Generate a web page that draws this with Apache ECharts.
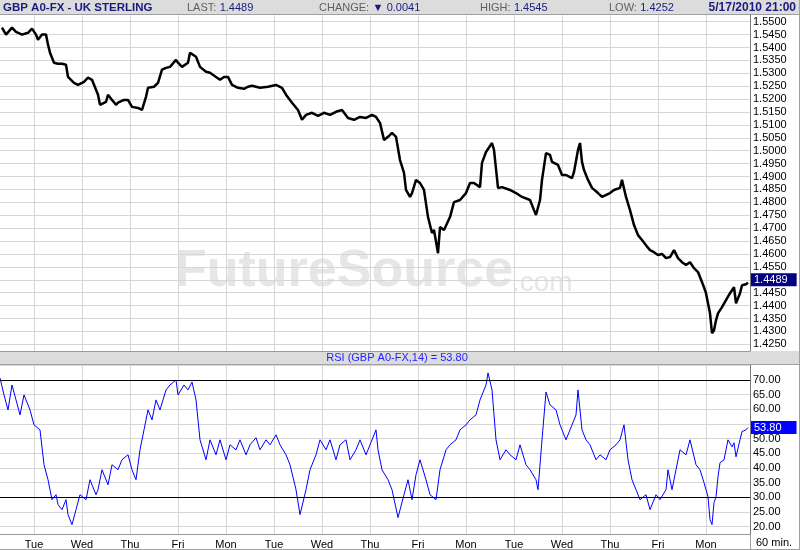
<!DOCTYPE html>
<html>
<head>
<meta charset="utf-8">
<script src="https://cdn.jsdelivr.net/npm/echarts@6/dist/echarts.min.js"></script>
<style>html,body{margin:0;padding:0;background:#fff;}#c{width:800px;height:550px;}</style>
</head>
<body>
<div id="c"></div>
<script>
// ---- data ----
const dayLabels = ['Tue','Wed','Thu','Fri','Mon','Tue','Wed','Thu','Fri','Mon','Tue','Wed','Thu','Fri','Mon'];
const firstBoundaryHour = 17;
const hoursPerDay = 24;
const totalHours = 375;

const priceHours = [
  1,3,4,6,8,9,11,14,16,18,
  19,21,23,24,25,27,29,31,33,34,
  35,37,39,42,44,46,48,49,50,53,
  54,56,58,59,62,64,66,69,71,73,
  74,77,79,81,83,85,88,89,91,94,
  95,98,100,103,105,108,110,112,114,116,
  119,122,124,126,130,134,138,141,143,146,
  149,151,153,156,159,162,165,168,171,174,
  177,180,183,186,188,190,192,194,196,198,
  200,202,203,205,206,208,210,212,214,216,
  217,219,220,222,223,225,227,230,233,235,
  237,240,241,243,246,247,249,251,255,258,
  261,265,267,268,270,271,273,275,276,279,
  281,283,286,287,289,290,291,292,294,296,
  299,301,305,307,310,311,313,315,317,319,
  321,323,325,327,329,331,333,335,337,339,
  341,343,345,347,349,350,352,353,355,356,
  357,358,359,361,363,365,367,368,370,371,
  373,374
];
const priceClose = [
  1.5477,1.5450,1.5457,1.5477,1.5461,1.5457,1.5450,1.5457,1.5473,1.5450,
  1.5430,1.5450,1.5450,1.5411,1.5380,1.5341,1.5337,1.5337,1.5333,1.5286,
  1.5283,1.5263,1.5255,1.5267,1.5283,1.5275,1.5236,1.5217,1.5178,1.5189,
  1.5217,1.5197,1.5178,1.5186,1.5197,1.5197,1.5170,1.5166,1.5158,1.5209,
  1.5244,1.5248,1.5263,1.5314,1.5321,1.5325,1.5352,1.5341,1.5325,1.5341,
  1.5380,1.5364,1.5325,1.5306,1.5302,1.5286,1.5275,1.5286,1.5286,1.5255,
  1.5244,1.5240,1.5248,1.5252,1.5244,1.5248,1.5255,1.5244,1.5217,1.5186,
  1.5158,1.5120,1.5139,1.5147,1.5135,1.5147,1.5139,1.5151,1.5158,1.5127,
  1.5120,1.5131,1.5127,1.5139,1.5131,1.5108,1.5042,1.5054,1.5069,1.5054,
  1.4964,1.4914,1.4848,1.4821,1.4836,1.4887,1.4875,1.4848,1.4743,1.4681,
  1.4693,1.4603,1.4704,1.4693,1.4693,1.4743,1.4801,1.4809,1.4836,1.4875,
  1.4875,1.4859,1.4953,1.4995,1.5030,1.5003,1.4856,1.4859,1.4848,1.4836,
  1.4821,1.4809,1.4770,1.4751,1.4809,1.4887,1.4991,1.4984,1.4957,1.4945,
  1.4906,1.4906,1.4894,1.4918,1.5003,1.5030,1.4957,1.4925,1.4887,1.4856,
  1.4836,1.4821,1.4836,1.4848,1.4856,1.4887,1.4821,1.4770,1.4712,1.4673,
  1.4654,1.4634,1.4615,1.4607,1.4596,1.4600,1.4584,1.4588,1.4615,1.4584,
  1.4568,1.4557,1.4568,1.4545,1.4530,1.4537,1.4471,1.4448,1.4370,1.4293,
  1.4304,1.4343,1.4370,1.4394,1.4421,1.4448,1.4471,1.4409,1.4448,1.4479,
  1.4483,1.4489
];

const rsiHours = [
  0,2,4,6,8,10,12,15,17,20,
  22,24,26,28,29,31,33,34,36,38,
  40,43,45,48,49,51,54,56,59,61,
  64,66,68,70,72,74,76,78,80,83,
  85,88,89,92,94,96,98,100,103,105,
  108,110,113,115,118,120,123,125,128,130,
  133,135,138,140,143,145,148,150,153,155,
  158,160,163,165,168,170,173,175,178,180,
  183,185,188,189,191,194,196,199,202,204,
  206,208,210,213,215,218,220,223,225,228,
  230,233,235,238,240,243,244,246,248,250,
  253,255,258,260,263,265,268,269,271,273,
  275,278,280,283,285,288,289,291,293,295,
  298,300,303,305,308,310,312,314,316,318,
  320,323,325,328,330,333,334,336,338,340,
  343,345,348,350,352,354,355,356,357,358,
  359,360,361,362,363,364,366,367,368,370,
  371,373,374
];
const rsiValues = [
  70.7,64.9,59.8,68.3,63.2,58.1,64.9,59.8,54.7,53.0,
  41.1,36.0,29.2,30.9,27.5,25.8,29.2,24.1,20.7,25.8,
  30.9,29.2,36.0,30.9,32.6,39.4,34.3,41.1,39.4,42.8,
  44.5,39.4,36.0,46.2,53.0,59.8,56.4,63.2,59.8,66.6,
  68.3,70.0,64.9,68.3,66.6,69.3,63.2,49.6,42.8,49.6,
  44.5,49.6,42.8,47.9,46.2,49.6,44.5,47.9,50.3,46.2,
  49.6,47.9,51.3,47.9,44.5,41.1,32.6,24.1,32.6,39.4,
  44.5,49.6,46.2,49.6,42.8,47.9,49.6,42.8,46.2,49.6,
  44.5,47.9,53.0,46.2,39.4,36.0,32.6,23.1,30.9,36.0,
  29.2,37.7,42.8,36.0,30.9,29.2,39.4,46.2,47.9,49.6,
  53.0,54.7,56.4,58.1,63.2,68.3,72.4,66.6,49.6,42.8,
  46.2,44.5,42.8,47.9,41.1,39.4,36.0,32.6,49.6,65.9,
  61.5,59.8,54.7,49.6,53.0,58.1,66.6,53.0,49.6,47.9,
  42.8,44.5,42.8,46.2,47.9,49.6,54.7,42.8,36.0,32.6,
  29.2,30.9,25.8,30.9,29.2,32.6,39.4,32.6,39.4,46.2,
  44.5,49.6,41.1,39.4,35.0,30.2,22.4,20.7,28.2,30.2,
  37.0,41.8,41.8,42.8,46.2,49.6,47.2,48.6,43.8,49.6,
  52.4,53.0,53.8
];

const rsiLevels = [70, 30];
const lastPrice = 1.4489;
const changeValue = 0.0041;
const highValue = 1.4545;
const lowValue = 1.4252;
const lastRsi = 53.80;
const titleText = 'GBP A0-FX - UK STERLING';
const dateText = '5/17/2010 21:00';
const periodText = '60 min.';

// ---- chart ----
const FONT = '"Liberation Sans", Arial, sans-serif';
const GRID = '#d6d6d6';
const NAVY = '#1a1a80';

const categories = [];
for (let h = 0; h <= totalHours; h++) {
  const d = h - firstBoundaryHour;
  categories.push(d >= 0 && d % hoursPerDay === 0 ? dayLabels[d / hoursPerDay] : '');
}
const isBoundary = (idx) => { const d = idx - firstBoundaryHour; return d >= 0 && d % hoursPerDay === 0; };

const priceData = priceHours.map((h, i) => [h, priceClose[i]]);
const rsiData = rsiHours.map((h, i) => [h, rsiValues[i]]);

function fmtStep(v, step, dec, cur, gap) {
  const k = Math.round(v / step);
  if (Math.abs(v - k * step) > 1e-7) return '';
  if (Math.abs(v - cur) < gap) return '';
  return v.toFixed(dec);
}

const chart = echarts.init(document.getElementById('c'), null, {renderer: 'canvas'});
chart.setOption({
  animation: false,
  backgroundColor: '#ffffff',
  textStyle: {fontFamily: FONT},
  grid: [
    {left: 0, width: 750, top: 15.25, height: 335.5},
    {left: 0, width: 750, top: 365.3, height: 169.05}
  ],
  xAxis: [
    {type: 'category', gridIndex: 0, data: categories, boundaryGap: false,
     axisLine: {show: true, lineStyle: {color: '#9a9a9a'}}, axisTick: {show: false},
     axisLabel: {show: false},
     splitLine: {show: true, interval: (i) => isBoundary(i), lineStyle: {color: GRID}}},
    {type: 'category', gridIndex: 1, data: categories, boundaryGap: false,
     axisLine: {show: true, lineStyle: {color: '#9a9a9a'}}, axisTick: {show: false},
     axisLabel: {show: true, interval: (i) => isBoundary(i), color: '#000', fontSize: 11, margin: 5, fontFamily: FONT},
     splitLine: {show: true, interval: (i) => isBoundary(i), lineStyle: {color: GRID}}}
  ],
  yAxis: [
    {type: 'value', gridIndex: 0, position: 'right', min: 1.4225, max: 1.5525, interval: 0.0025,
     axisLine: {show: true, lineStyle: {color: '#7a7a7a'}}, axisTick: {show: false},
     axisLabel: {color: '#000', fontSize: 11, margin: 3, fontFamily: FONT, showMinLabel: false, showMaxLabel: false,
                 formatter: (v) => fmtStep(v, 0.005, 4, lastPrice, 0.003)},
     splitLine: {show: true, lineStyle: {color: ['transparent', GRID]}}},
    {type: 'value', gridIndex: 1, position: 'right', min: 17.5, max: 75, interval: 2.5,
     axisLine: {show: true, lineStyle: {color: '#7a7a7a'}}, axisTick: {show: false},
     axisLabel: {color: '#000', fontSize: 11, margin: 3, fontFamily: FONT, showMinLabel: false, showMaxLabel: false,
                 formatter: (v) => (v >= 75 ? '' : fmtStep(v, 5, 2, lastRsi, 2.5))},
     splitLine: {show: true, lineStyle: {color: ['transparent', GRID]}}}
  ],
  graphic: [
    // header bar
    {type: 'rect', shape: {x: 0, y: 0, width: 800, height: 14.5}, style: {fill: '#dcdcdc'}, z: -1},
    {type: 'line', shape: {x1: 0, y1: 14.5, x2: 800, y2: 14.5}, style: {stroke: '#a0a0a0', lineWidth: 1}},
    {type: 'line', shape: {x1: 799.5, y1: 0, x2: 799.5, y2: 550}, style: {stroke: '#a0a0a0', lineWidth: 1}},
    {type: 'text', x: 3, y: 7.5, style: {text: titleText, font: 'bold 11.5px ' + FONT, fill: NAVY, verticalAlign: 'middle'}},
    {type: 'text', x: 187, y: 7.5, style: {text: '{a|LAST:} {b|' + lastPrice.toFixed(4) + '}', verticalAlign: 'middle',
      rich: {a: {fontSize: 11, fill: '#606060', fontFamily: FONT}, b: {fontSize: 11, fill: NAVY, fontFamily: FONT}}}},
    {type: 'text', x: 319, y: 7.5, style: {text: '{a|CHANGE:} {b|\u25BC} {b|' + changeValue.toFixed(4) + '}', verticalAlign: 'middle',
      rich: {a: {fontSize: 11, fill: '#606060', fontFamily: FONT}, b: {fontSize: 11, fill: NAVY, fontFamily: FONT}}}},
    {type: 'text', x: 480, y: 7.5, style: {text: '{a|HIGH:} {b|' + highValue.toFixed(4) + '}', verticalAlign: 'middle',
      rich: {a: {fontSize: 11, fill: '#606060', fontFamily: FONT}, b: {fontSize: 11, fill: NAVY, fontFamily: FONT}}}},
    {type: 'text', x: 609, y: 7.5, style: {text: '{a|LOW:} {b|' + lowValue.toFixed(4) + '}', verticalAlign: 'middle',
      rich: {a: {fontSize: 11, fill: '#606060', fontFamily: FONT}, b: {fontSize: 11, fill: NAVY, fontFamily: FONT}}}},
    {type: 'text', x: 796, y: 7.5, style: {text: dateText, font: 'bold 12px ' + FONT, fill: NAVY, align: 'right', verticalAlign: 'middle'}},
    // watermark
    {type: 'text', x: 175, y: 272, z: -1, style: {text: 'FutureSource', font: 'bold 52px ' + FONT, fill: '#e6e6e6', verticalAlign: 'middle'}},
    {type: 'text', x: 512, y: 283, z: -1, style: {text: '.com', font: '28px ' + FONT, fill: '#e6e6e6', verticalAlign: 'middle'}},
    // RSI header band
    {type: 'rect', shape: {x: 0, y: 351, width: 799, height: 13.5}, style: {fill: '#dcdcdc'}, z: -1},
    {type: 'line', shape: {x1: 0, y1: 364.5, x2: 800, y2: 364.5}, style: {stroke: '#a0a0a0', lineWidth: 1}},
    {type: 'text', x: 397, y: 357.5, style: {text: 'RSI (GBP A0-FX,14) = ' + lastRsi.toFixed(2), font: '11px ' + FONT, fill: '#1f1fff', align: 'center', verticalAlign: 'middle'}},
    // bottom strip
    {type: 'line', shape: {x1: 0, y1: 549.5, x2: 800, y2: 549.5}, style: {stroke: '#a0a0a0', lineWidth: 1}},
    {type: 'line', shape: {x1: 750.5, y1: 534, x2: 750.5, y2: 549}, style: {stroke: '#a0a0a0', lineWidth: 1}},
    {type: 'text', x: 756, y: 543, style: {text: periodText, font: '11px ' + FONT, fill: '#000', verticalAlign: 'middle'}}
  ],
  series: [
    {type: 'line', xAxisIndex: 0, yAxisIndex: 0, data: priceData, symbol: 'none', clip: false,
     lineStyle: {color: '#000', width: 2.5}, z: 3,
     markLine: {silent: true, symbol: 'none', animation: false,
       data: [{yAxis: lastPrice, lineStyle: {color: 'rgba(0,0,0,0)'},
         label: {show: true, position: 'end', distance: 1, formatter: lastPrice.toFixed(4), color: '#fff',
                 backgroundColor: '#000080', padding: [1, 9, 1, 3], fontSize: 11, fontFamily: FONT}}]}},
    {type: 'line', xAxisIndex: 1, yAxisIndex: 1, data: rsiData, symbol: 'none', clip: false,
     lineStyle: {color: '#0000ff', width: 1}, z: 3,
     markLine: {silent: true, symbol: 'none', animation: false,
       data: rsiLevels.map(v => ({yAxis: v, lineStyle: {color: '#000', width: 1, type: 'solid'}, label: {show: false}}))
         .concat([{yAxis: lastRsi, lineStyle: {color: 'rgba(0,0,0,0)'},
           label: {show: true, position: 'end', distance: 1, formatter: lastRsi.toFixed(2), color: '#fff',
                   backgroundColor: '#0000ff', padding: [1, 15, 1, 3], fontSize: 11, fontFamily: FONT}}])}}
  ]
});
</script>
</body>
</html>
